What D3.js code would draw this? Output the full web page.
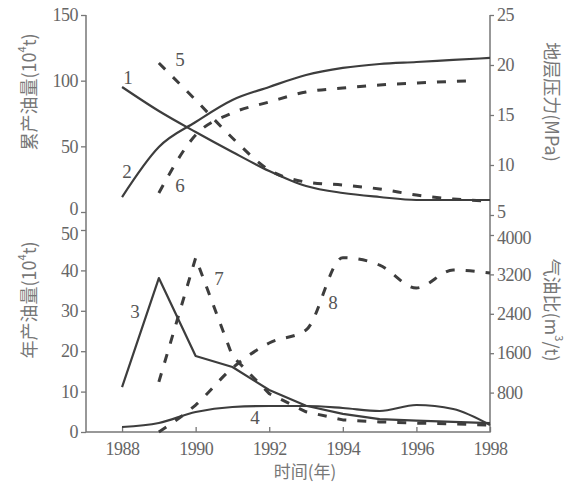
<!DOCTYPE html>
<html>
<head>
<meta charset="utf-8">
<script src="https://cdn.jsdelivr.net/npm/d3@7"></script>
<style>
  body { margin: 0; background: #fff; }
  svg { display: block; }
</style>
</head>
<body>
<script>
// years on the time axis
const years = [1988, 1989, 1990, 1991, 1992, 1993, 1994, 1995, 1996, 1997, 1998];
const xTicks = [1988, 1990, 1992, 1994, 1996, 1998];

// top panel: formation pressure (MPa) and cumulative oil (10^4 t)
const pres1 = [17.8, 15.4, 13.3, 11.3, 9.4, 7.9, 7.2, 6.8, 6.5, 6.5, 6.5];
const pres5 = [null, 20.2, 16.5, 12.7, 9.5, 8.3, 8.0, 7.6, 7.0, 6.6, 6.4];
const cum2 = [11.4, 49.5, 68.5, 85.3, 95.2, 104.3, 109.7, 112.7, 114.2, 115.8, 117.3];
const cum6Years = [1989, 1990, 1991, 1992, 1993, 1994, 1995, 1996, 1997, 1997.5];
const cum6 = [14.5, 58.6, 75.4, 83.8, 91.4, 94.4, 96.7, 98.2, 99.4, 99.8];

// bottom panel: annual oil (10^4 t) and gas-oil ratio (m3/t)
const oil3 = [11.1, 38.1, 18.8, 16.1, 10.4, 6.5, 4.5, 3.2, 2.8, 2.5, 2.2];
const oil7 = [null, 12.4, 43.1, 18.8, 9.5, 5.0, 3.0, 2.5, 2.2, 2.0, 1.7];
const gor4 = [102, 183, 406, 508, 528, 528, 487, 426, 548, 467, 142];
const gor8 = [null, 0, 548, 1300, 1807, 2071, 3540, 3390, 2924, 3289, 3228];

const cumTicks = [0, 50, 100, 150];
const presTicks = [5, 10, 15, 20, 25];
const oilTicks = [0, 10, 20, 30, 40, 50];
const gorTicks = [800, 1600, 2400, 3200, 4000];

const W = 579, H = 485;
const serif = "'Liberation Serif', 'DejaVu Serif', serif";
const svg = d3.select("body").append("svg")
    .attr("width", W)
    .attr("height", H);

const x = d3.scaleLinear().domain([1987.02, 1998]).range([86, 490]);
const yCum = d3.scaleLinear().domain([0, 150]).range([212, 15]);
const yPres = d3.scaleLinear().domain([5, 25]).range([215, 15]);
const yOil = d3.scaleLinear().domain([0, 50]).range([432, 230]);
const yGor = d3.scaleLinear().domain([0, 4000]).range([432, 235]);

// axes
function styleAxis(g) {
  g.select(".domain").remove();
  g.selectAll(".tick line").attr("stroke", "#777").attr("stroke-width", 1.3);
  g.selectAll(".tick text")
      .style("font-family", serif)
      .style("font-size", "18px")
      .style("fill", "#666")
      .attr("letter-spacing", "-0.5px");
}
const gCum = svg.append("g").attr("transform", "translate(86,0)")
    .call(d3.axisLeft(yCum).tickValues(cumTicks).tickSize(5).tickPadding(3)).call(styleAxis);
const gOil = svg.append("g").attr("transform", "translate(86,0)")
    .call(d3.axisLeft(yOil).tickValues(oilTicks).tickSize(5).tickPadding(3)).call(styleAxis);
const gPres = svg.append("g").attr("transform", "translate(490,0)")
    .call(d3.axisRight(yPres).tickValues(presTicks).tickSize(4).tickPadding(3)).call(styleAxis);
const gGor = svg.append("g").attr("transform", "translate(490,0)")
    .call(d3.axisRight(yGor).tickValues(gorTicks).tickFormat(d3.format("d")).tickSize(4).tickPadding(3)).call(styleAxis);
svg.append("g").attr("transform", "translate(0,432)")
    .call(d3.axisBottom(x).tickValues(xTicks).tickFormat(d3.format("d")).tickSizeInner(-5).tickSizeOuter(0).tickPadding(10))
    .call(styleAxis);

// the two panels meet closely: nudge the touching labels apart
gCum.selectAll(".tick text").filter(d => d === 0).attr("dy", "0.12em");
gOil.selectAll(".tick text").filter(d => d === 50).attr("dy", "0.5em");
gPres.selectAll(".tick text").filter(d => d === 5).attr("dy", "0.12em");
gGor.selectAll(".tick text").filter(d => d === 4000).attr("dy", "0.45em");

// axis lines
const axisPath = d3.path();
axisPath.moveTo(86, 15); axisPath.lineTo(86, 432); axisPath.lineTo(490, 432); axisPath.lineTo(490, 15);
svg.append("path").attr("d", axisPath.toString())
    .attr("fill", "none").attr("stroke", "#777").attr("stroke-width", 1.5);

// curves
const dark = "#3d3d3d";
function drawLine(xs, vals, yScale, dashed, curve) {
  const pts = xs.map((d, i) => [d, vals[i]]);
  const line = d3.line()
      .defined(d => d[1] !== null)
      .x(d => x(d[0]))
      .y(d => yScale(d[1]))
      .curve(curve);
  svg.append("path").datum(pts)
      .attr("d", line)
      .attr("fill", "none")
      .attr("stroke", dark)
      .attr("stroke-width", dashed ? 3 : 2.2)
      .attr("stroke-dasharray", dashed ? "9,11" : null)
      .attr("stroke-linejoin", "round");
}

drawLine(years, pres1, yPres, false, d3.curveMonotoneX);
drawLine(years, cum2, yCum, false, d3.curveMonotoneX);
drawLine(years, pres5, yPres, true, d3.curveMonotoneX);
drawLine(cum6Years, cum6, yCum, true, d3.curveMonotoneX);
drawLine(years, oil3, yOil, false, d3.curveLinear);
drawLine(years, gor4, yGor, false, d3.curveMonotoneX);
drawLine(years, oil7, yOil, true, d3.curveLinear);
drawLine(years, gor8, yGor, true, d3.curveMonotoneX);

// curve numbers
const curveLabels = [
  { t: "1", x: 128, y: 84 }, { t: "2", x: 127, y: 178 },
  { t: "5", x: 180, y: 66 }, { t: "6", x: 180, y: 192 },
  { t: "3", x: 135, y: 318 }, { t: "7", x: 219, y: 285 },
  { t: "4", x: 255, y: 424 }, { t: "8", x: 333, y: 309 }
];
svg.selectAll(".lbl").data(curveLabels).enter().append("text")
    .attr("class", "lbl")
    .attr("x", d => d.x)
    .attr("y", d => d.y)
    .attr("text-anchor", "middle")
    .style("font-family", serif)
    .style("font-size", "19px")
    .style("fill", "#555")
    .text(d => d.t);

// axis titles
function vTitle(cx, cy, rot) {
  return svg.append("text")
      .attr("transform", `translate(${cx},${cy}) rotate(${rot})`)
      .attr("text-anchor", "middle")
      .attr("dominant-baseline", "central")
      .style("font-family", "'Noto Sans CJK SC', sans-serif")
      .style("font-size", "18px")
      .style("fill", "#777");
}
function sup(t, before, s, after) {
  t.append("tspan").text(before);
  t.append("tspan").attr("font-size", 11).attr("dy", -7).text(s);
  t.append("tspan").attr("dy", 7).text(after);
}
vTitle(28, 92, -90).call(t => sup(t, "累产油量(10", "4", "t)"));
vTitle(28, 300, -90).call(t => sup(t, "年产油量(10", "4", "t)"));
vTitle(553, 102, 90).text("地层压力(MPa)");
vTitle(553, 310, 90).call(t => sup(t, "气油比(m", "3", "/t)"));

svg.append("text")
    .attr("x", 305).attr("y", 470)
    .attr("text-anchor", "middle")
    .attr("dominant-baseline", "central")
    .style("font-family", "'Noto Sans CJK SC', sans-serif")
    .style("font-size", "17px")
    .style("fill", "#777")
    .text("时间(年)");
</script>
</body>
</html>
